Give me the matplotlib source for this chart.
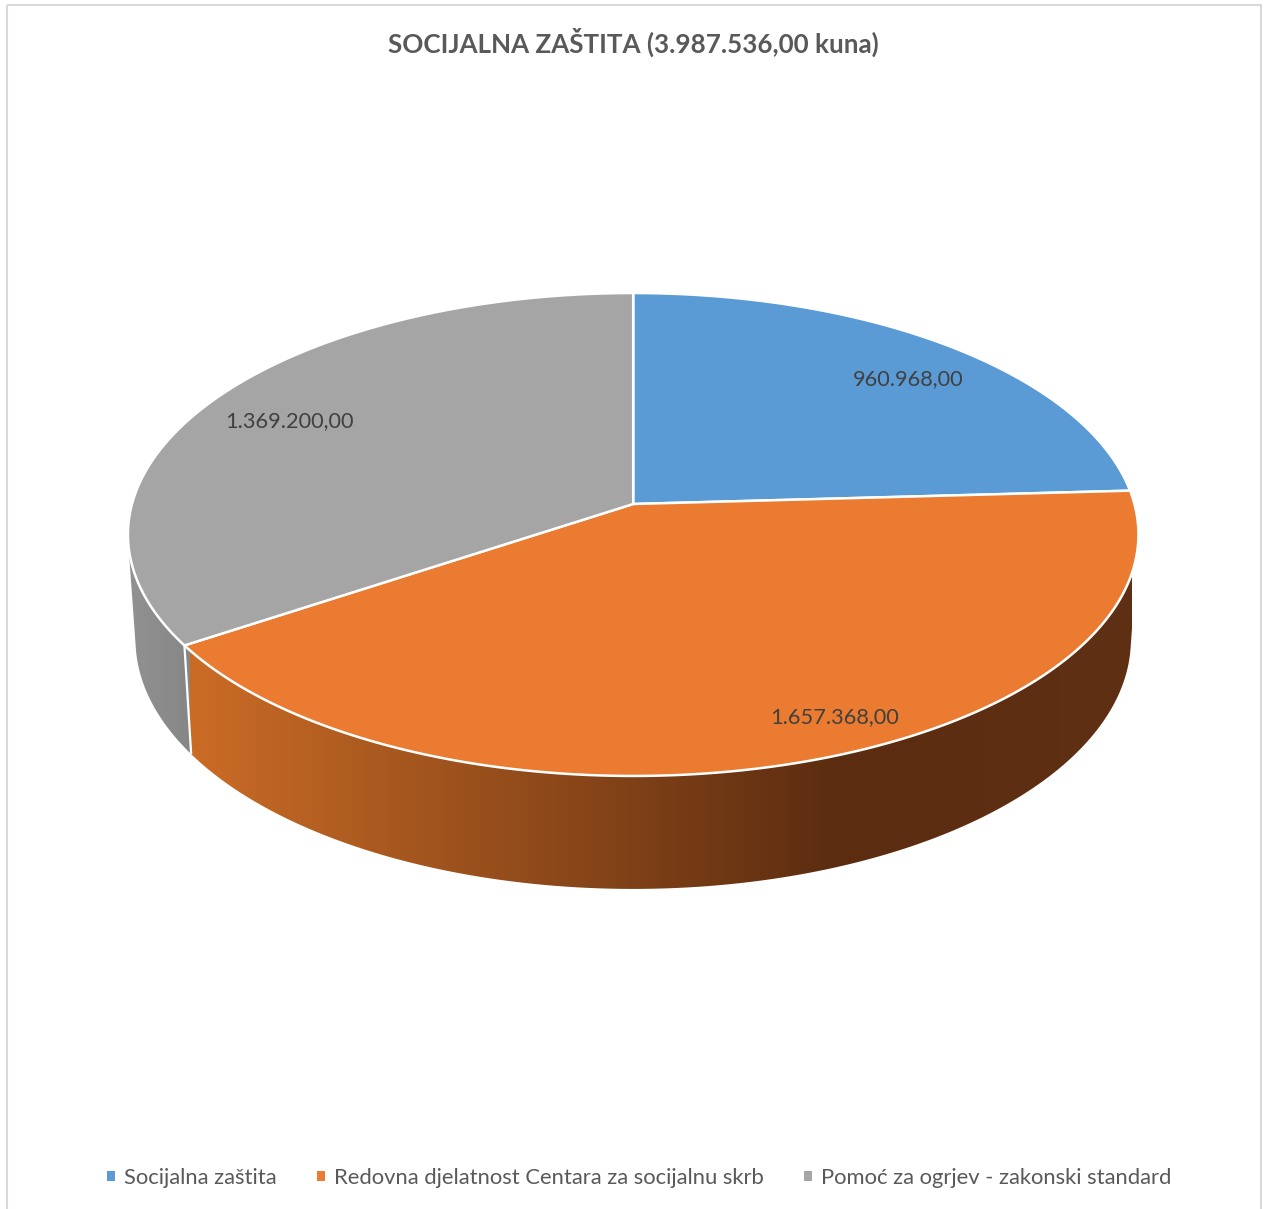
import numpy as np
import matplotlib
matplotlib.use("Agg")
import matplotlib.pyplot as plt
from matplotlib.colors import LinearSegmentedColormap
from matplotlib.patches import Polygon, Patch, Rectangle

categories = ["Socijalna zaštita", "Redovna djelatnost Centara za socijalnu skrb",
              "Pomoć za ogrjev - zakonski standard"]
values = [960968, 1657368, 1369200]
value_labels = ["960.968,00", "1.657.368,00", "1.369.200,00"]
title = "SOCIJALNA ZAŠTITA (3.987.536,00 kuna)"
colors = ["#5B9BD5", "#EA7B30", "#A5A5A5"]

plt.rcParams["font.family"] = ["Lato", "DejaVu Sans"]
W, H = 1264, 1209
fig = plt.figure(figsize=(W / 100, H / 100), dpi=100, facecolor="white")
ax = fig.add_axes([0, 0, 1, 1])

# perspective view of the pie
CX, CY, DEPTH = 633.2, 504.0, 104.0
K = 0.1263
A, B = 501.2, 237.6
SX, SY = 0.985, 1.033


def rim(theta_deg, lower=False):
    t = np.radians(np.asarray(theta_deg, dtype=float))
    u, v = np.sin(t), np.cos(t)
    w = 1 + K * v
    if lower:
        return np.column_stack([CX + SX * A * u / w, CY + DEPTH - SY * B * v / w])
    return np.column_stack([CX + A * u / w, CY - B * v / w])


def hull(points):
    pts = sorted(map(tuple, points))
    def half(seq):
        out = []
        for p in seq:
            while len(out) > 1 and ((out[-1][0] - out[-2][0]) * (p[1] - out[-2][1])
                                    - (out[-1][1] - out[-2][1]) * (p[0] - out[-2][0])) <= 0:
                out.pop()
            out.append(p)
        return out[:-1]
    return np.array(half(pts) + half(pts[::-1]))


fractions = np.array(values) / sum(values)
edges = np.concatenate([[0], np.cumsum(fractions) * 360])

# gradient side walls
orange_side = LinearSegmentedColormap.from_list(
    "o", [(0, "#CB6C26"), (0.69, "#5B2C10"), (1, "#5F3013")], N=1024)
gray_side = LinearSegmentedColormap.from_list("g", ["#929292", "#868686"], N=256)
grad = np.linspace(0, 1, 1024)[None, :]

def side(a0, a1, cmap, x0, x1):
    th = np.linspace(a0, a1, 240)
    poly = Polygon(hull(np.vstack([rim(th), rim(th, True)])), closed=True,
                   fc="none", ec="none", transform=ax.transData)
    ax.add_patch(poly)
    im = ax.imshow(grad, cmap=cmap, extent=[x0, x1, H, 0], aspect="auto", zorder=1,
                   interpolation="bilinear")
    im.set_clip_path(poly)

side(edges[2], edges[2] + 60, gray_side, 128, 192)
side(edges[1], edges[2], orange_side, 190, 1132)

# seam between the walls
seam = np.vstack([rim([edges[2]]), rim([edges[2]], True)])
ax.plot(seam[:, 0], seam[:, 1], color="white", lw=1.6, zorder=2, solid_capstyle="butt")

# top surface
for i in range(3):
    th = np.linspace(edges[i], edges[i + 1], 300)
    ax.add_patch(Polygon(np.vstack([[CX, CY], rim(th)]), closed=True, fc=colors[i],
                         ec="white", lw=1.8, joinstyle="round", zorder=3))

# data labels
label_pos = [(908, 379), (835, 717), (289, 421)]
for txt, (x, y) in zip(value_labels, label_pos):
    ax.text(x, y, txt, ha="center", va="center", fontsize=15.7, color="#404040", zorder=4)

ax.text(633, 42, title, ha="center", va="center", fontsize=18.7, fontweight="bold", color="#595959")

# chart frame
ax.add_patch(Rectangle((7, 5), 1253.5, 1240, fc="none", ec="#D9D9D9", lw=1.5, zorder=0))

handles = [Patch(fc=c, ec="none") for c in colors]
leg = ax.legend(handles, categories, ncol=3, loc="center", bbox_to_anchor=(639.5, 1178),
                bbox_transform=ax.transData, frameon=False, fontsize=15.85, labelcolor="#595959",
                handlelength=0.36, handleheight=0.36, handletextpad=0.42, columnspacing=1.82,
                borderpad=0, borderaxespad=0)

ax.set_xlim(0, W)
ax.set_ylim(H, 0)
ax.axis("off")
fig.savefig("out.png", dpi=100, facecolor="white")
